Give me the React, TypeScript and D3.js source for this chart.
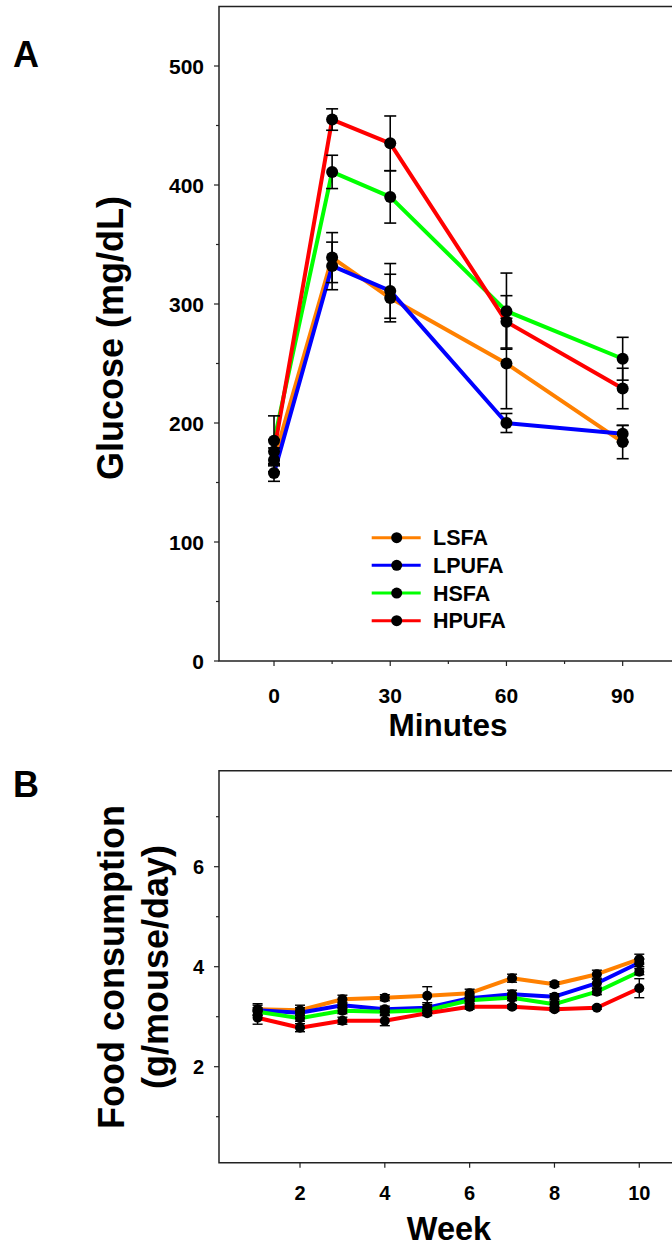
import React from "react";
import * as d3 from "d3";

const seriesNames = ["LSFA", "LPUFA", "HSFA", "HPUFA"];
const seriesColors = ["#ff8000", "#0000ff", "#00ff00", "#ff0000"];

// Panel A: glucose tolerance
const minutes = [0, 15, 30, 60, 90];
const glucoseLSFA = [169, 339, 305, 250, 184];
const glucoseLPUFA = [158, 332, 311, 200, 191];
const glucoseHSFA = [185, 411, 390, 294, 254];
const glucoseHPUFA = [176, 455, 435, 285, 229];
const glucoseErrLSFA = [10, 21, 20, 38, 14];
const glucoseErrLPUFA = [7, 20, 23, 8, 7];
const glucoseErrHSFA = [21, 14, 22, 32, 18];
const glucoseErrHPUFA = [10, 9, 23, 22, 17];
const glucoseTicks = [0, 100, 200, 300, 400, 500];
const glucoseMinorTicks = [50, 150, 250, 350, 450];
const minuteTicks = [0, 30, 60, 90];
const minuteMinorTicks = [15, 45, 75];

// Panel B: food consumption
const weeks = [1, 2, 3, 4, 5, 6, 7, 8, 9, 10];
const foodLSFA = [3.15, 3.13, 3.35, 3.38, 3.42, 3.47, 3.77, 3.65, 3.85, 4.15];
const foodLPUFA = [3.13, 3.08, 3.23, 3.15, 3.18, 3.37, 3.45, 3.4, 3.67, 4.08];
const foodHSFA = [3.1, 2.97, 3.12, 3.1, 3.13, 3.33, 3.38, 3.25, 3.5, 3.9];
const foodHPUFA = [2.98, 2.78, 2.92, 2.92, 3.07, 3.2, 3.2, 3.15, 3.18, 3.57];
const foodErrLSFA = [0.11, 0.1, 0.08, 0.06, 0.18, 0.08, 0.08, 0.05, 0.08, 0.1];
const foodErrLPUFA = [0.1, 0.1, 0.06, 0.06, 0.1, 0.06, 0.08, 0.06, 0.08, 0.08];
const foodErrHSFA = [0.08, 0.06, 0.06, 0.06, 0.06, 0.06, 0.06, 0.06, 0.06, 0.06];
const foodErrHPUFA = [0.13, 0.08, 0.07, 0.1, 0.05, 0.05, 0.04, 0.04, 0.03, 0.19];
const foodTicks = [2, 4, 6];
const foodMinorTicks = [1, 3, 5, 7];
const weekTicks = [2, 4, 6, 8, 10];

const FONT = "'Liberation Sans', Arial, Helvetica, sans-serif";
const AXIS = "#222";

type Series = { name: string; color: string; values: number[]; errs: number[] };

function Panel(props: {
  xs: number[];
  series: Series[];
  x: d3.ScaleLinear<number, number>;
  y: d3.ScaleLinear<number, number>;
  lineW: number;
  r: number;
  cap: number;
  errW: number;
}) {
  const { xs, series, x, y, lineW, r, cap, errW } = props;
  const line = d3
    .line<number>()
    .x((_, i) => x(xs[i]))
    .y((v) => y(v));
  return (
    <g>
      {series.map((s) => (
        <path key={"l" + s.name} d={line(s.values) || ""} fill="none" stroke={s.color} strokeWidth={lineW} strokeLinejoin="round" />
      ))}
      {series.map((s) =>
        s.values.map((v, i) => {
          const cx = x(xs[i]);
          const y1 = y(v + s.errs[i]);
          const y2 = y(v - s.errs[i]);
          return (
            <g key={"e" + s.name + i} stroke="#000" strokeWidth={errW}>
              <line x1={cx} x2={cx} y1={y1} y2={y2} />
              <line x1={cx - cap / 2} x2={cx + cap / 2} y1={y1} y2={y1} />
              <line x1={cx - cap / 2} x2={cx + cap / 2} y1={y2} y2={y2} />
            </g>
          );
        })
      )}
      {series.map((s) =>
        s.values.map((v, i) => <circle key={"c" + s.name + i} cx={x(xs[i])} cy={y(v)} r={r} fill="#000" />)
      )}
    </g>
  );
}

export default function App() {
  // Panel A scales
  const xA = d3.scaleLinear().domain([-14.2, 106]).range([219, 219 + 120.2 * 3.874]);
  const yA = d3.scaleLinear().domain([0, 550]).range([661, 6.5]);
  // Panel B scales
  const xB = d3.scaleLinear().domain([0.09, 11.1]).range([219, 219 + 11.01 * 42.41]);
  const yB = d3.scaleLinear().domain([0.08, 7.92]).range([1162.7, 770.7]);

  const glucose = [glucoseLSFA, glucoseLPUFA, glucoseHSFA, glucoseHPUFA];
  const glucoseErr = [glucoseErrLSFA, glucoseErrLPUFA, glucoseErrHSFA, glucoseErrHPUFA];
  const food = [foodLSFA, foodLPUFA, foodHSFA, foodHPUFA];
  const foodErr = [foodErrLSFA, foodErrLPUFA, foodErrHSFA, foodErrHPUFA];

  const seriesA: Series[] = seriesNames.map((n, i) => ({ name: n, color: seriesColors[i], values: glucose[i], errs: glucoseErr[i] }));
  const seriesB: Series[] = seriesNames.map((n, i) => ({ name: n, color: seriesColors[i], values: food[i], errs: foodErr[i] }));

  const [axL, axR] = xA.range();
  const [ayB, ayT] = yA.range();
  const [bxL, bxR] = xB.range();
  const [byB, byT] = yB.range();

  const legendY = d3.scaleLinear().domain([0, 3]).range([537.7, 620.7]);

  return (
    <svg width={672} height={1247} style={{ position: "absolute", left: 0, top: 0, background: "#fff" }} fontFamily={FONT}>
      <rect x={0} y={0} width={672} height={1247} fill="#fff" />
      {/* Panel A */}
      <text x={26} y={67} fontSize={36} fontWeight="bold" textAnchor="middle">A</text>
      <path d={`M${axR},${ayT}H${axL}V${ayB}H${axR}`} fill="none" stroke={AXIS} strokeWidth={1.5} />
      {glucoseTicks.map((t) => (
        <g key={"ya" + t}>
          <line x1={axL - 5} x2={axL} y1={yA(t)} y2={yA(t)} stroke={AXIS} strokeWidth={1.2} />
          <text x={204} y={yA(t)} dy="0.36em" fontSize={21} fontWeight="bold" textAnchor="end">{t}</text>
        </g>
      ))}
      {glucoseMinorTicks.map((t) => (
        <line key={"yam" + t} x1={axL - 3} x2={axL} y1={yA(t)} y2={yA(t)} stroke={AXIS} strokeWidth={1.2} />
      ))}
      {minuteTicks.map((t) => (
        <g key={"xa" + t}>
          <line x1={xA(t)} x2={xA(t)} y1={ayB} y2={ayB + 5} stroke={AXIS} strokeWidth={1.2} />
          <text x={xA(t)} y={702.5} fontSize={21} fontWeight="bold" textAnchor="middle">{t}</text>
        </g>
      ))}
      {minuteMinorTicks.map((t) => (
        <line key={"xam" + t} x1={xA(t)} x2={xA(t)} y1={ayB} y2={ayB + 3} stroke={AXIS} strokeWidth={1.2} />
      ))}
      <text x={448} y={735.5} fontSize={31.5} fontWeight="bold" textAnchor="middle">Minutes</text>
      <text transform="translate(123,338) rotate(-90)" fontSize={36} fontWeight="bold" textAnchor="middle">Glucose (mg/dL)</text>
      <Panel xs={minutes} series={seriesA} x={xA} y={yA} lineW={4} r={6} cap={12} errW={1.6} />
      {/* Legend */}
      {seriesA.map((s, i) => (
        <g key={"lg" + s.name}>
          <line x1={371.7} x2={420.7} y1={legendY(i)} y2={legendY(i)} stroke={s.color} strokeWidth={3} />
          <circle cx={396.7} cy={legendY(i)} r={5.5} fill="#000" />
          <text x={433} y={legendY(i)} dy="0.36em" fontSize={21.5} fontWeight="bold">{s.name}</text>
        </g>
      ))}

      {/* Panel B */}
      <text x={26} y={797} fontSize={36} fontWeight="bold" textAnchor="middle">B</text>
      <path d={`M${bxR},${byT}H${bxL}V${byB}H${bxR}`} fill="none" stroke={AXIS} strokeWidth={1.5} />
      {foodTicks.map((t) => (
        <g key={"yb" + t}>
          <line x1={bxL - 5} x2={bxL} y1={yB(t)} y2={yB(t)} stroke={AXIS} strokeWidth={1.2} />
          <text x={204} y={yB(t)} dy="0.36em" fontSize={20} fontWeight="bold" textAnchor="end">{t}</text>
        </g>
      ))}
      {foodMinorTicks.map((t) => (
        <line key={"ybm" + t} x1={bxL - 3} x2={bxL} y1={yB(t)} y2={yB(t)} stroke={AXIS} strokeWidth={1.2} />
      ))}
      {weekTicks.map((t) => (
        <g key={"xb" + t}>
          <line x1={xB(t)} x2={xB(t)} y1={byB} y2={byB + 5} stroke={AXIS} strokeWidth={1.2} />
          <text x={xB(t)} y={1200} fontSize={20} fontWeight="bold" textAnchor="middle">{t}</text>
        </g>
      ))}
      <text x={449} y={1239.6} fontSize={32.5} fontWeight="bold" textAnchor="middle">Week</text>
      <text transform="translate(124,967) rotate(-90)" fontSize={36} fontWeight="bold" textAnchor="middle">Food consumption</text>
      <text transform="translate(168,967) rotate(-90)" fontSize={36} fontWeight="bold" textAnchor="middle">(g/mouse/day)</text>
      <Panel xs={weeks} series={seriesB} x={xB} y={yB} lineW={4} r={5} cap={10} errW={1.4} />
    </svg>
  );
}
